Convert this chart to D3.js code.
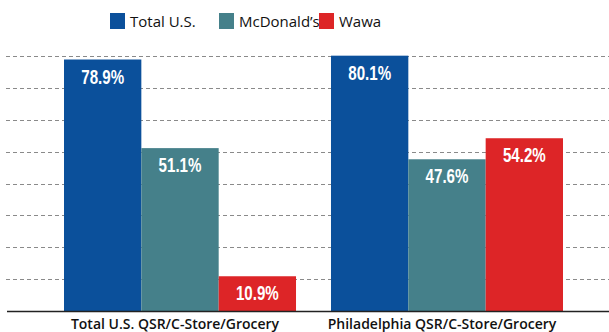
<!DOCTYPE html>
<html>
<head>
<meta charset="utf-8">
<script src="https://cdn.jsdelivr.net/npm/d3@7"></script>
<style>
  body { margin: 0; background: #fff; }
  svg { display: block; }
</style>
</head>
<body>
<script>
// chart data
var groups = ["Total U.S. QSR/C-Store/Grocery", "Philadelphia QSR/C-Store/Grocery"];
var series = ["Total U.S.", "McDonald\u2019s", "Wawa"];
var totalUS = [78.9, 80.1];
var mcdonalds = [51.1, 47.6];
var wawa = [10.9, 54.2];
var gridTicks = [10, 20, 30, 40, 50, 60, 70, 80];

var colors = ["#0b509b", "#45808a", "#dd2527"];

var width = 609, height = 332;
var baseY = 311, topY = 56;

var svg = d3.select("body").append("svg")
    .attr("width", width)
    .attr("height", height);

// scales
var x0 = d3.scaleBand()
    .domain(groups)
    .range([64, 563])
    .paddingInner(0.131)
    .paddingOuter(0);

var x1 = d3.scaleBand()
    .domain(series)
    .range([0, x0.bandwidth()])
    .padding(0);

var y = d3.scaleLinear()
    .domain([0, 80])
    .range([baseY, topY]);

// dashed gridlines
svg.append("g")
    .selectAll("line")
    .data(gridTicks)
    .enter().append("line")
    .attr("x1", 6)
    .attr("x2", width)
    .attr("y1", function(d) { return Math.round(y(d)) + 0.5; })
    .attr("y2", function(d) { return Math.round(y(d)) + 0.5; })
    .attr("stroke", "#8a8a8a")
    .attr("stroke-width", 1.2)
    .attr("stroke-dasharray", "4,3");

// build rows for bars
var rows = [];
groups.forEach(function(g, i) {
    [totalUS[i], mcdonalds[i], wawa[i]].forEach(function(v, j) {
        rows.push({ group: g, key: series[j], value: v, color: colors[j] });
    });
});

var bars = svg.append("g")
    .selectAll("g")
    .data(rows)
    .enter().append("g")
    .attr("transform", function(d) { return "translate(" + (x0(d.group) + x1(d.key)) + ",0)"; });

bars.append("rect")
    .attr("x", 0)
    .attr("y", function(d) { return y(d.value); })
    .attr("width", x1.bandwidth())
    .attr("height", function(d) { return baseY - y(d.value); })
    .attr("fill", function(d) { return d.color; });

// value labels inside bars (squeezed to look condensed)
bars.append("text")
    .attr("transform", function(d) {
        return "translate(" + (x1.bandwidth() / 2) + "," + (y(d.value) + 24) + ") scale(0.72,1)";
    })
    .attr("text-anchor", "middle")
    .attr("fill", "#fff")
    .style("font-family", "'Liberation Sans', Arial, sans-serif")
    .style("font-weight", "bold")
    .style("font-size", "21px")
    .text(function(d) { return d.value.toFixed(1) + "%"; });

// baseline
svg.append("line")
    .attr("x1", 7)
    .attr("x2", width)
    .attr("y1", baseY + 0.5)
    .attr("y2", baseY + 0.5)
    .attr("stroke", "#222")
    .attr("stroke-width", 1.5);

// category labels
svg.append("g")
    .selectAll("text")
    .data(groups)
    .enter().append("text")
    .attr("x", function(d) { return x0(d) + x0.bandwidth() / 2 - 5; })
    .attr("y", 329)
    .attr("text-anchor", "middle")
    .attr("fill", "#111")
    .style("font-family", "'Open Sans', sans-serif")
    .style("font-weight", "600")
    .style("font-size", "14px")
    .text(function(d) { return d; });

// legend
var legendX = [110, 219, 319];
var legend = svg.append("g")
    .selectAll("g")
    .data(series)
    .enter().append("g")
    .attr("transform", function(d, i) { return "translate(" + legendX[i] + ",13)"; });

legend.append("rect")
    .attr("width", 15)
    .attr("height", 16)
    .attr("fill", function(d, i) { return colors[i]; });

legend.append("text")
    .attr("x", 20)
    .attr("y", 13.5)
    .attr("fill", "#111")
    .style("font-family", "'Open Sans', sans-serif")
    .style("font-size", "15px")
    .text(function(d) { return d; });
</script>
</body>
</html>
